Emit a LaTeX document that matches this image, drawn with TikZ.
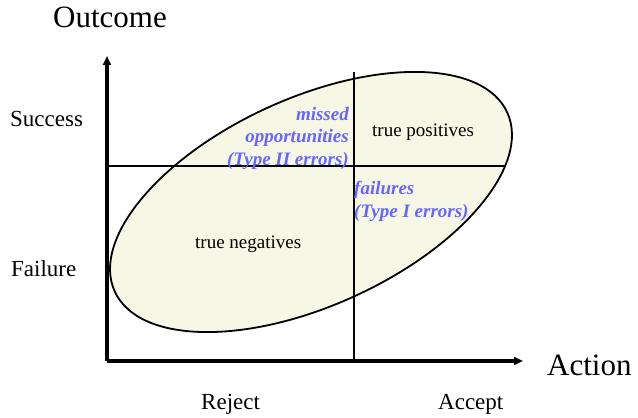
\documentclass[tikz,border=0pt]{standalone}
\usepackage{fontspec}
\setmainfont{Liberation Serif}
\usetikzlibrary{arrows.meta}
\definecolor{errBlue}{HTML}{6666FF}
\definecolor{blobFill}{HTML}{F7F7E6}

\begin{document}
\begin{tikzpicture}[x=1pt, y=1pt,
        axis/.style={line width=3.5pt, -{Triangle[length=9pt, width=8pt]}},
        split/.style={line width=1.4pt},
        blob/.style={draw, line width=1.8pt, fill=blobFill},
        big/.style={font=\fontsize{31}{36}\selectfont, inner sep=0pt},
        tick/.style={font=\fontsize{23}{27}\selectfont, inner sep=0pt},
        cell/.style={font=\fontsize{19}{22}\selectfont, inner sep=0pt},
        err/.style={text=errBlue, font=\fontsize{19}{22.5}\selectfont\bfseries\itshape, inner sep=0pt}]
        \useasboundingbox (0,0) rectangle (638,418);
        \draw[blob, rotate around={24.5:(311,216)}] (311,216) ellipse (215.7 and 103.8);
        \coordinate (O) at (107,57);
        \coordinate (yEnd) at (107,362);
        \coordinate (xEnd) at (523,57);
        \coordinate (vTop) at (354,346);
        \coordinate (vBot) at (354,57);
        \coordinate (hLeft) at (107,252);
        \coordinate (hRight) at (505,252);
        \draw[split] (vTop) -- (vBot);
        \draw[split] (hLeft) -- (hRight);
        \draw[axis] (O) -- (yEnd);
        \draw[axis] (O) -- (xEnd);
        \node[big, anchor=base] (outcome) at (110,390) {Outcome};
        \node[big, anchor=base west] (action) at (547,42) {Action};
        \node[tick, anchor=base west] (success) at (10,291) {Success};
        \node[tick, anchor=base west] (failure) at (11,141) {Failure};
        \node[tick, anchor=base west] (reject) at (201,8) {Reject};
        \node[tick, anchor=base west] (accept) at (438,8) {Accept};
        \node[cell, anchor=base west] (tp) at (372,281) {true positives};
        \node[cell, anchor=base west] (tn) at (195,169) {true negatives};
        \node[err, anchor=north east, align=right] (missed) at (349,311)
            {missed\\opportunities\\(Type II errors)};
        \node[err, anchor=north west, align=left] (fail) at (354,237)
            {failures\\(Type I errors)};
      \end{tikzpicture}
\end{document}
